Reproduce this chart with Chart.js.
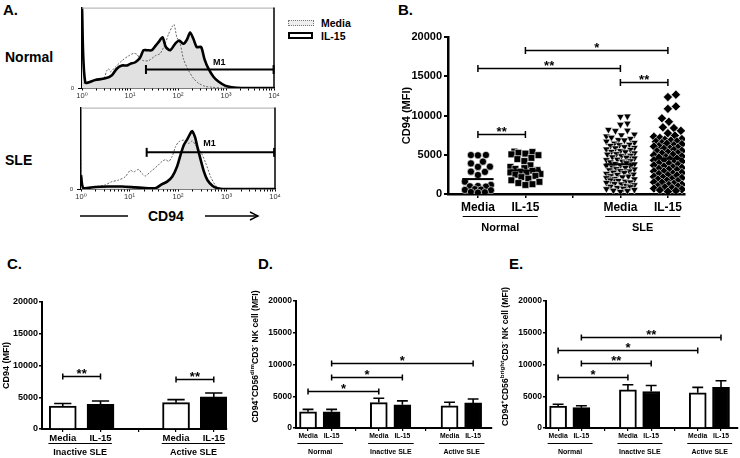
<!DOCTYPE html>
<html>
<head>
<meta charset="utf-8">
<script src="https://cdn.jsdelivr.net/npm/chart.js@4.4.0/dist/chart.umd.min.js"></script>
<style>
  body { margin: 0; background: #fff; }
  #page { position: relative; width: 740px; height: 458px; overflow: hidden; background: #fff;
          font-family: 'Liberation Sans', Arial, sans-serif; font-weight: bold; color: #000; }
  canvas { position: absolute; }
  .txt { position: absolute; white-space: nowrap; line-height: 1; }
</style>
</head>
<body>
<div id="page">
  <div class="txt" style="left:3px;top:2px;font-size:15px">A.</div>
  <div class="txt" style="left:5px;top:50px;font-size:14px">Normal</div>
  <div class="txt" style="left:5px;top:153px;font-size:14px">SLE</div>
  <div class="txt" style="left:148px;top:209px;font-size:14px">CD94</div>
  <svg style="position:absolute;left:78px;top:210px" width="185" height="12">
    <line x1="2" y1="6" x2="50" y2="6" stroke="#000" stroke-width="1.5"/>
    <line x1="127" y1="6" x2="180" y2="6" stroke="#000" stroke-width="1.5"/>
    <polyline points="172,2 180,6 172,10" fill="none" stroke="#000" stroke-width="1.5"/>
  </svg>
  <div style="position:absolute;left:288px;top:20px;width:24px;height:4px;border:1px dotted #777;background:#eee"></div>
  <div style="position:absolute;left:288px;top:32px;width:21px;height:3px;border:2.5px solid #000;background:#fff"></div>
  <div class="txt" style="left:321px;top:18px;font-size:10.5px">Media</div>
  <div class="txt" style="left:321px;top:31px;font-size:10.5px">IL-15</div>
  <div class="txt" style="left:398px;top:2px;font-size:15px">B.</div>
  <div class="txt" style="left:7px;top:256px;font-size:15px">C.</div>
  <div class="txt" style="left:258px;top:256px;font-size:15px">D.</div>
  <div class="txt" style="left:509px;top:256px;font-size:15px">E.</div>

  <canvas id="histTop" width="230" height="100" style="left:60px;top:0px"></canvas>
  <canvas id="histSle" width="230" height="100" style="left:60px;top:100px"></canvas>
  <canvas id="dotChart" width="320" height="225" style="left:380px;top:20px"></canvas>
  <canvas id="barC" width="240" height="178" style="left:0px;top:280px"></canvas>
  <canvas id="barD" width="255" height="178" style="left:240px;top:280px"></canvas>
  <canvas id="barE" width="250" height="178" style="left:490px;top:280px"></canvas>
</div>
<script>
// ---- panel A: histograms, [CD94 intensity, % of max] ----
const normalIl15Hist = [[1,100],[1.17,7],[1.89,10],[3.06,12],[4.2,16],[5.3,24],[6.8,28],[8.6,28],[10.1,30],[12.9,32],[16.3,38],[19.2,47],[22.5,47],[28.6,47],[34.6,53],[39.3,57],[47.6,63],[55.8,51],[68.7,47],[87.3,55],[105.7,59],[130,55],[153,60],[179,69],[210,61],[246,51],[303,51],[356,36],[431,24],[547,14],[695,8],[957,3],[1318,1],[2130,0],[10000,0]];
const normalMediaHist = [[1.08,6],[1.89,10],[2.82,12],[3.31,22],[3.59,24],[3.88,20],[4.94,26],[6.8,34],[9.35,40],[11.9,43],[13.9,42],[16.3,36],[19.2,34],[24.4,34],[33.5,40],[42.6,43],[54.1,55],[63.4,67],[76.8,77],[83.2,79],[94.6,63],[111,55],[130,36],[165,22],[210,12],[267,6],[367,2],[506,1],[816,0],[10000,0]];
const sleIl15Hist = [[1,17],[1.12,1],[1.95,2.5],[3.69,3],[6.97,3],[13.2,2],[24.9,1],[34.2,1],[47,6],[59.7,9],[75.8,15],[96.2,28],[113,42],[132,54],[155,61],[182,69],[197,71],[224,64],[250,52],[293,36],[344,21],[403,11],[512,4],[650,1],[824,0],[10000,0]];
const sleMediaHist = [[1,36],[1.12,2],[1.95,2.5],[3.14,5],[4.32,9],[5.94,11],[8.17,15],[10.4,23],[12.2,21],[15.4,24],[18.1,19],[21.2,16],[26.9,21],[37,28],[47,34],[55.2,36],[64.7,34],[75.8,40],[88.9,52],[104,58],[132,60],[168,56],[197,59],[231,54],[293,46],[372,32],[472,15],[600,4],[762,1],[1000,0],[10000,0]];
const histTickLabels = ['10⁰', '10¹', '10²', '10³', '10⁴'];
const normalGate = [21.5, 9800, 23];
const sleGate = [22.6, 9600, 45];

// ---- panel B: CD94 MFI per donor ----
const dotLabels = ['Media', 'IL-15', '', 'Media', 'IL-15'];
const dotGroups = ['Normal', 'SLE'];
const normalMediaMfi = [4970, 4960, 4930, 4120, 3900, 3480, 3450, 2850, 2820, 2420, 1570, 1150, 1020, 980, 940, 620, 560, 520, 480, 250, 220, 180];
const normalIl15Mfi = [5400, 5350, 5250, 5150, 5050, 4950, 4600, 4450, 4200, 3650, 3450, 3300, 3200, 3050, 2950, 2850, 2750, 2650, 2550, 2450, 2300, 2150, 1950, 1750, 1550, 1400, 1250, 1150];
const sleMediaMfi = [9900, 9850, 9000, 8850, 8200, 8100, 8050, 7600, 7500, 7350, 7200, 7050, 6900, 6850, 6700, 6550, 6450, 6300, 6250, 6150, 6000, 5900, 5850, 5700, 5650, 5500, 5400, 5350, 5200, 5100, 5050, 4900, 4850, 4700, 4650, 4550, 4400, 4350, 4200, 4150, 4050, 3950, 3850, 3800, 3650, 3600, 3500, 3400, 3350, 3200, 3150, 3050, 2950, 2900, 2750, 2700, 2600, 2500, 2450, 2300, 2250, 2150, 2050, 1950, 1900, 1750, 1700, 1600, 1500, 1450, 1300, 1250, 1150, 1050, 950, 900, 800, 700, 650, 550, 450, 400, 300];
const sleIl15Mfi = [12650, 12350, 11150, 10850, 9650, 9200, 8500, 8400, 8050, 7750, 7450, 7300, 7150, 7000, 6900, 6800, 6700, 6650, 6500, 6400, 6350, 6200, 6100, 6050, 5900, 5800, 5750, 5600, 5500, 5450, 5300, 5200, 5150, 5000, 4950, 4800, 4700, 4650, 4500, 4450, 4300, 4200, 4150, 4000, 3900, 3850, 3700, 3650, 3500, 3400, 3350, 3200, 3100, 3050, 2900, 2850, 2700, 2600, 2550, 2400, 2350, 2200, 2100, 2050, 1900, 1850, 1700, 1650, 1500, 1450, 1300, 1200, 1150, 1000, 950, 850, 750, 700, 600, 500, 400, 300];
const dotMeans = [1900, 3000, 0, 3800, 4500];
const dotSig = [[0, 1, 7600, '**'], [0, 3, 16100, '**'], [1, 4, 18400, '*'], [3, 4, 14300, '**']];

// ---- panel C: CD94 MFI, mean and SEM ----
const cLabels = ['Media', 'IL-15', '', 'Media', 'IL-15'];
const cGroups = ['Inactive SLE', 'Active SLE'];
const cMedia = [3600, 4150];
const cMediaErr = [420, 470];
const cIl15 = [3900, 5050];
const cIl15Err = [520, 620];
const cSig = [[0, 1, 8400, '**'], [3, 4, 7950, '**']];

// ---- panel D: CD56dim NK cells ----
const dLabels = ['Media', 'IL-15', '', 'Media', 'IL-15', '', 'Media', 'IL-15'];
const dGroups = ['Normal', 'Inactive SLE', 'Active SLE'];
const dMedia = [2550, 4000, 3500];
const dMediaErr = [380, 680, 550];
const dIl15 = [2550, 3650, 3950];
const dIl15Err = [380, 620, 620];
const dSig = [[0, 3, 5900, '*'], [1, 4, 8000, '*'], [1, 7, 10200, '*']];

// ---- panel E: CD56bright NK cells ----
const eLabels = ['Media', 'IL-15', '', 'Media', 'IL-15', '', 'Media', 'IL-15'];
const eGroups = ['Normal', 'Inactive SLE', 'Active SLE'];
const eMedia = [3450, 6000, 5550];
const eMediaErr = [300, 800, 850];
const eIl15 = [3200, 5750, 6400];
const eIl15Err = [300, 950, 1050];
const eSig = [[0, 3, 8100, '*'], [1, 4, 10200, '**'], [0, 6, 12270, '*'], [1, 7, 14350, '**']];

Chart.defaults.font.family = "'Liberation Sans', Arial, 'DejaVu Sans', sans-serif";
Chart.defaults.color = '#000';
Chart.defaults.animation = false;
Chart.defaults.responsive = false;
Chart.defaults.plugins.legend.display = false;
Chart.defaults.plugins.tooltip.enabled = false;

const FONT = "'Liberation Sans', Arial, 'DejaVu Sans', sans-serif";

function fixWidth(w) { return (s) => { s.width = w; }; }
function fixHeight(h) { return (s) => { s.height = h; }; }
function slotTicks(n) {
  return (s) => { s.ticks = Array.from({ length: n }, (_, i) => ({ value: i })); };
}

// significance bars with stars
function sigPlugin(items, cap, fontSize) {
  return {
    id: 'sig',
    afterDraw(chart) {
      const { ctx, scales: { x, y } } = chart;
      ctx.save();
      ctx.strokeStyle = '#000';
      ctx.fillStyle = '#000';
      ctx.lineWidth = 1.5;
      ctx.font = `bold ${fontSize}px ${FONT}`;
      ctx.textAlign = 'center';
      ctx.textBaseline = 'alphabetic';
      items.forEach(([a, b, v, label]) => {
        const x1 = x.getPixelForValue(a);
        const x2 = x.getPixelForValue(b);
        const py = Math.round(y.getPixelForValue(v)) + 0.5;
        ctx.beginPath();
        ctx.moveTo(x1, py); ctx.lineTo(x2, py);
        ctx.moveTo(x1, py - cap); ctx.lineTo(x1, py + cap);
        ctx.moveTo(x2, py - cap); ctx.lineTo(x2, py + cap);
        ctx.stroke();
        ctx.fillText(label, (x1 + x2) / 2, py + fontSize * 0.12);
      });
      ctx.restore();
    }
  };
}

// group underline + group name under the category labels
function groupPlugin(names, slots, span, lineGap, textGap, fontSize) {
  return {
    id: 'groups',
    afterDraw(chart) {
      const { ctx, scales: { x }, chartArea } = chart;
      const base = chartArea.bottom;
      ctx.save();
      ctx.strokeStyle = '#000';
      ctx.lineWidth = 1;
      ctx.fillStyle = '#000';
      ctx.font = `bold ${fontSize}px ${FONT}`;
      ctx.textAlign = 'center';
      ctx.textBaseline = 'middle';
      names.forEach((name, i) => {
        const x1 = x.getPixelForValue(slots[i] + span[0]);
        const x2 = x.getPixelForValue(slots[i] + span[1]);
        ctx.beginPath();
        ctx.moveTo(x1, base + lineGap + 0.5);
        ctx.lineTo(x2, base + lineGap + 0.5);
        ctx.stroke();
        ctx.fillText(name, (x1 + x2) / 2, base + textGap);
      });
      ctx.restore();
    }
  };
}

// rotated y title, parts: [text, isSup]
function yTitlePlugin(parts, dx, size, dy = 0) {
  return {
    id: 'ytitle',
    afterDraw(chart) {
      const { ctx, chartArea } = chart;
      const sup = size * 0.72;
      ctx.save();
      ctx.translate(chartArea.left + dx, (chartArea.top + chartArea.bottom) / 2 + dy);
      ctx.rotate(-Math.PI / 2);
      ctx.fillStyle = '#000';
      ctx.textBaseline = 'middle';
      ctx.textAlign = 'left';
      let total = 0;
      parts.forEach(([t, s]) => {
        ctx.font = `bold ${s ? sup : size}px ${FONT}`;
        total += ctx.measureText(t).width;
      });
      let pos = -total / 2;
      parts.forEach(([t, s]) => {
        ctx.font = `bold ${s ? sup : size}px ${FONT}`;
        ctx.fillText(t, pos, s ? -size * 0.38 : 0);
        pos += ctx.measureText(t).width;
      });
      ctx.restore();
    }
  };
}

// upper SEM whiskers on bars
const errorBars = {
  id: 'errorBars',
  afterDatasetsDraw(chart) {
    const { ctx, scales: { y } } = chart;
    chart.data.datasets.forEach((ds, i) => {
      if (!ds.errors) return;
      chart.getDatasetMeta(i).data.forEach((bar, j) => {
        const top = y.getPixelForValue(ds.data[j].y + ds.errors[j]);
        const half = bar.width * 0.32;
        ctx.save();
        ctx.strokeStyle = '#000';
        ctx.lineWidth = 1.6;
        ctx.beginPath();
        ctx.moveTo(bar.x, bar.y);
        ctx.lineTo(bar.x, top);
        ctx.moveTo(bar.x - half, top);
        ctx.lineTo(bar.x + half, top);
        ctx.stroke();
        ctx.restore();
      });
    });
  }
};

// ---------- histograms ----------
function histFrame() {
  return {
    id: 'frame',
    afterDraw(chart) {
      const { ctx, chartArea: a } = chart;
      ctx.save();
      ctx.strokeStyle = '#aaa';
      ctx.lineWidth = 1;
      ctx.beginPath();
      ctx.moveTo(a.left, a.top + 0.5);
      ctx.lineTo(a.right, a.top + 0.5);
      ctx.stroke();
      ctx.strokeStyle = '#000';
      ctx.lineWidth = 1.5;
      ctx.beginPath();
      ctx.moveTo(a.right, a.top);
      ctx.lineTo(a.right, a.bottom);
      ctx.stroke();
      ctx.restore();
    }
  };
}

function gateLabel(x, y) {
  return {
    id: 'gateLabel',
    afterDraw(chart) {
      const { ctx, scales } = chart;
      ctx.save();
      ctx.fillStyle = '#000';
      ctx.font = `bold 9px ${FONT}`;
      ctx.textAlign = 'left';
      ctx.textBaseline = 'middle';
      ctx.fillText('M1', scales.x.getPixelForValue(x), scales.y.getPixelForValue(y));
      ctx.restore();
    }
  };
}

const logTicks = [];
for (let d = 1; d <= 1000; d *= 10) {
  for (let m = 1; m < 10; m++) logTicks.push(m * d);
}
logTicks.push(10000);

function makeHist(id, il15, media, gate, labelPos, pad) {
  const pts = (arr) => arr.map(([x, y]) => ({ x, y }));
  new Chart(document.getElementById(id), {
    type: 'line',
    data: {
      datasets: [
        { data: pts([[gate[0], gate[2]], [gate[1], gate[2]]]), borderColor: '#000', borderWidth: 2,
          pointStyle: 'line', pointRadius: 4.5, pointRotation: 90, pointBorderWidth: 2, pointBorderColor: '#000', order: 0, clip: false },
        { data: pts(il15), borderColor: '#000', borderWidth: 2.6, pointRadius: 0, tension: 0.25, order: 1 },
        { data: pts(media), borderColor: '#666', borderWidth: 1, borderDash: [2, 1.5], pointRadius: 0, tension: 0.25, order: 2 },
        { data: pts(il15), borderWidth: 0, borderColor: 'rgba(0,0,0,0)', backgroundColor: '#e1e1e1', fill: 'origin', pointRadius: 0, tension: 0.25, order: 3 }
      ]
    },
    options: {
      layout: { padding: { top: pad.top, right: pad.right, left: 0, bottom: 0 } },
      scales: {
        x: {
          type: 'logarithmic', min: 1, max: 10000,
          afterBuildTicks: (s) => { s.ticks = logTicks.map((v) => ({ value: v })); },
          afterFit: fixHeight(pad.bottom),
          ticks: {
            autoSkip: false, maxRotation: 0, padding: 1, color: '#333',
            font: { size: 7.5, weight: 'normal' },
            callback: (v) => {
              const p = Math.log10(v);
              return Math.abs(p - Math.round(p)) < 1e-9 ? histTickLabels[Math.round(p)] : '';
            }
          },
          grid: { drawOnChartArea: false, tickLength: 2.5, color: '#000', lineWidth: 1 },
          border: { color: '#000', width: 1.5 }
        },
        y: {
          min: 0, max: 100,
          afterBuildTicks: (s) => { s.ticks = [{ value: 0 }]; },
          afterFit: fixWidth(pad.left),
          ticks: { font: { size: 6, weight: 'normal' }, color: '#333', padding: 4, callback: () => '0' },
          grid: { drawOnChartArea: false, tickLength: 4, color: '#000' },
          border: { color: '#000', width: 1.5 }
        }
      }
    },
    plugins: [histFrame(), gateLabel(labelPos[0], labelPos[1])]
  });
}

makeHist('histTop', normalIl15Hist, normalMediaHist, normalGate, [537, 32], { top: 6, right: 16, left: 22, bottom: 12 });
makeHist('histSle', sleIl15Hist, sleMediaHist, sleGate, [331, 56], { top: 7, right: 15, left: 21, bottom: 11 });

// ---------- panel B: dot plot ----------
const DOT_PX_PER_Y = 157 / 20000;
const DOT_PX_PER_SLOT = 47.5;

// Prism-like column scatter: spread points sideways so they overlap less
function swarm(values, halfWidth, diam) {
  const placed = [];
  const out = new Array(values.length);
  const order = values.map((_, i) => i).sort((a, b) => values[a] - values[b]);
  order.forEach((i) => {
    const py = values[i] * DOT_PX_PER_Y;
    let best = 0;
    let bestScore = -1;
    for (let k = 0; k <= 2 * halfWidth; k++) {
      const off = k % 2 ? Math.ceil(k / 2) : -k / 2;
      let minD = Infinity;
      placed.forEach((p) => {
        const dd = Math.hypot(p.x - off, p.y - py);
        if (dd < minD) minD = dd;
      });
      const score = Math.min(minD, diam);
      if (score > bestScore + 1e-6) { bestScore = score; best = off; }
    }
    placed.push({ x: best, y: py });
    out[i] = best / DOT_PX_PER_SLOT;
  });
  return out;
}

function column(values, slot, halfWidth, diam) {
  const offs = swarm(values, halfWidth, diam);
  return values.map((v, i) => ({ x: slot + offs[i], y: v }));
}

function meanLine(slot) {
  return {
    type: 'line', data: [{ x: slot - 0.33, y: dotMeans[slot] }, { x: slot + 0.33, y: dotMeans[slot] }],
    borderColor: '#000', borderWidth: 2, pointRadius: 0, order: 0
  };
}

const dotPoint = { backgroundColor: '#000', borderColor: '#fff', borderWidth: 0.6 };
new Chart(document.getElementById('dotChart'), {
  type: 'scatter',
  data: {
    datasets: [
      { ...dotPoint, data: column(normalMediaMfi, 0, 13, 7), pointStyle: 'circle', pointRadius: 3.6, order: 1 },
      { ...dotPoint, data: column(normalIl15Mfi, 1, 15, 7), pointStyle: 'rect', pointRadius: 4.8, order: 1 },
      { ...dotPoint, data: column(sleMediaMfi, 3, 14, 7), pointStyle: 'triangle', pointRotation: 180, pointRadius: 4.4, order: 1 },
      { ...dotPoint, data: column(sleIl15Mfi, 4, 14, 7.5), pointStyle: 'rectRot', pointRadius: 4.6, order: 1 },
      meanLine(0), meanLine(1), meanLine(3), meanLine(4)
    ]
  },
  options: {
    layout: { padding: { top: 17, right: 15, left: 0, bottom: 0 } },
    scales: {
      x: {
        type: 'linear', min: -0.63, max: 4.36,
        afterBuildTicks: slotTicks(dotLabels.length),
        afterFit: fixHeight(51),
        ticks: { autoSkip: false, maxRotation: 0, padding: 2, font: { size: 12, weight: 'bold' },
                 callback: (v, i) => dotLabels[i] },
        grid: { drawOnChartArea: false, tickLength: 4, color: '#000', lineWidth: 1.5 },
        border: { color: '#000', width: 2.5 }
      },
      y: {
        min: 0, max: 20000,
        afterFit: fixWidth(68),
        ticks: { stepSize: 5000, padding: 2, font: { size: 11, weight: 'bold' }, callback: (v) => String(v) },
        grid: { drawOnChartArea: false, tickLength: 4, color: '#000', lineWidth: 2 },
        border: { color: '#000', width: 2.5 }
      }
    }
  },
  plugins: [
    sigPlugin(dotSig, 3.5, 13),
    groupPlugin(dotGroups, [0, 3], [-0.32, 1.26], 22, 34, 11),
    yTitlePlugin([['CD94 (MFI)', false]], -41, 11)
  ]
});

// ---------- bar panels ----------
function makeBars(id, cfg) {
  const mediaSlots = cfg.labels.map((l, i) => (l === 'Media' ? i : -1)).filter((i) => i >= 0);
  const il15Slots = cfg.labels.map((l, i) => (l === 'IL-15' ? i : -1)).filter((i) => i >= 0);
  new Chart(document.getElementById(id), {
    type: 'bar',
    data: {
      datasets: [
        { data: mediaSlots.map((s, i) => ({ x: s, y: cfg.media[i] })), errors: cfg.mediaErr,
          backgroundColor: '#fff', borderColor: '#000', borderWidth: 2, barThickness: cfg.barW, grouped: false },
        { data: il15Slots.map((s, i) => ({ x: s, y: cfg.il15[i] })), errors: cfg.il15Err,
          backgroundColor: '#000', borderColor: '#000', borderWidth: 2, barThickness: cfg.barW, grouped: false }
      ]
    },
    options: {
      layout: { padding: { top: cfg.padTop, right: cfg.padRight, left: 0, bottom: 0 } },
      scales: {
        x: {
          type: 'linear', min: cfg.xRange[0], max: cfg.xRange[1], offset: false,
          afterBuildTicks: slotTicks(cfg.labels.length),
          afterFit: fixHeight(cfg.xHeight),
          ticks: { autoSkip: false, maxRotation: 0, padding: 1, font: { size: cfg.catFont, weight: 'bold' },
                   callback: (v, i) => cfg.labels[i] },
          grid: { drawOnChartArea: false, offset: false, tickLength: 3, color: '#000', lineWidth: 1.2 },
          border: { color: '#000', width: 2 }
        },
        y: {
          min: 0, max: 20000,
          afterFit: fixWidth(cfg.yWidth),
          ticks: { stepSize: 5000, padding: 1, font: { size: cfg.tickFont, weight: 'bold' }, callback: (v) => String(v) },
          grid: { drawOnChartArea: false, tickLength: 3, color: '#000', lineWidth: 1.5 },
          border: { color: '#000', width: 2 }
        }
      }
    },
    plugins: [
      errorBars,
      sigPlugin(cfg.sig, 3, 13),
      groupPlugin(cfg.groups, mediaSlots, cfg.span, cfg.lineGap, cfg.textGap, cfg.groupFont),
      yTitlePlugin(cfg.title, cfg.titleDx, cfg.titleSize, cfg.titleDy)
    ]
  });
}

makeBars('barC', {
  labels: cLabels, groups: cGroups, media: cMedia, mediaErr: cMediaErr, il15: cIl15, il15Err: cIl15Err, sig: cSig,
  barW: 27, xRange: [-0.55, 4.35], padTop: 22, padRight: 13, xHeight: 29, yWidth: 42,
  catFont: 9.5, tickFont: 9, groupFont: 9, span: [-0.38, 1.3], lineGap: 14, textGap: 24,
  title: [['CD94 (MFI)', false]], titleDx: -35, titleSize: 9, titleDy: 0
});

makeBars('barD', {
  labels: dLabels, groups: dGroups, media: dMedia, mediaErr: dMediaErr, il15: dIl15, il15Err: dIl15Err, sig: dSig,
  barW: 17, xRange: [-0.51, 7.8], padTop: 21, padRight: 3, xHeight: 30, yWidth: 56,
  catFont: 6.8, tickFont: 8.5, groupFont: 7, span: [-0.45, 1.48], lineGap: 15, textGap: 24.5,
  title: [['CD94', false], ['+', true], ['CD56', false], ['dim', true], ['CD3', false], ['-', true], [' NK cell (MFI)', false]],
  titleDx: -40, titleSize: 8.6, titleDy: -8
});

makeBars('barE', {
  labels: eLabels, groups: eGroups, media: eMedia, mediaErr: eMediaErr, il15: eIl15, il15Err: eIl15Err, sig: eSig,
  barW: 17, xRange: [-0.52, 7.73], padTop: 21, padRight: 2, xHeight: 30, yWidth: 56,
  catFont: 6.8, tickFont: 8.5, groupFont: 7, span: [-0.45, 1.48], lineGap: 15, textGap: 24.5,
  title: [['CD94', false], ['+', true], ['CD56', false], ['bright', true], ['CD3', false], ['-', true], [' NK cell (MFI)', false]],
  titleDx: -40, titleSize: 8.6, titleDy: -8
});
</script>
</body>
</html>
